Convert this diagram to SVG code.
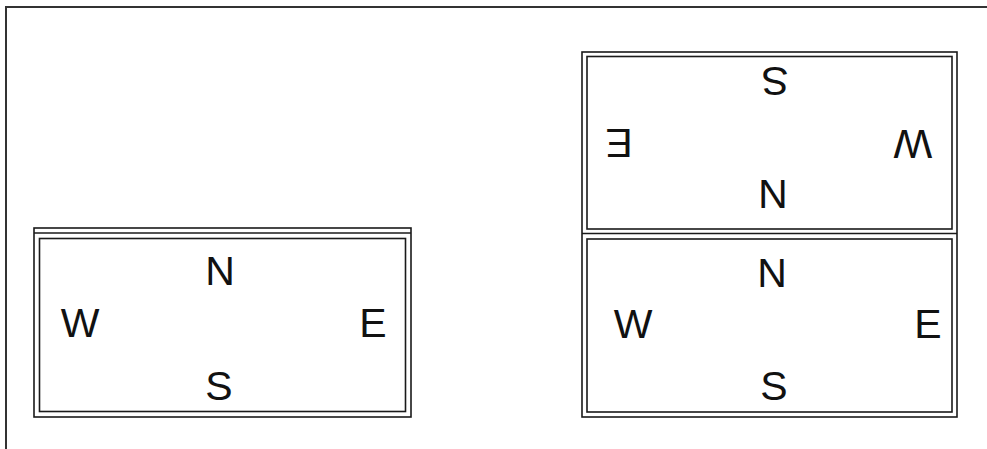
<svg xmlns="http://www.w3.org/2000/svg" width="987" height="449" viewBox="0 0 987 449">
<style>
.ln{fill:none;stroke:#1a1a1a;stroke-width:1.6}
.t{font-family:"Liberation Sans",Arial,sans-serif;font-size:41px;fill:#111;text-anchor:middle}
</style>
<rect width="987" height="449" fill="#fff"/>
<g id="border">
<polyline class="ln" points="6,449 6,7 987,7" style="stroke-width:2;stroke:#333"/>
</g>
<g id="box-left">
<rect class="ln" x="34" y="228" width="377" height="189"/>
<line class="ln" x1="34" y1="233" x2="411" y2="233"/>
<rect class="ln" x="39.5" y="238.5" width="366" height="173"/>
<text class="t" x="220" y="285">N</text>
<text class="t" x="80" y="337">W</text>
<text class="t" x="373" y="337">E</text>
<text class="t" x="219" y="400">S</text>
</g>
<g id="box-right">
<rect class="ln" x="582" y="52" width="375" height="365"/>
<line class="ln" x1="582" y1="233.5" x2="957" y2="233.5"/>
<rect class="ln" x="587" y="56.5" width="365" height="172.5"/>
<rect class="ln" x="587" y="239" width="365" height="173"/>
</g>
<g id="compass-top">
<text class="t" x="775" y="67" transform="rotate(180 775 67)">S</text>
<text class="t" x="773" y="180" transform="rotate(180 773 180)">N</text>
<text class="t" x="619" y="129" transform="rotate(180 619 129)">E</text>
<text class="t" x="913" y="130" transform="rotate(180 913 130)">W</text>
</g>
<g id="compass-bottom">
<text class="t" x="772" y="287">N</text>
<text class="t" x="633" y="338">W</text>
<text class="t" x="928" y="338">E</text>
<text class="t" x="774" y="400">S</text>
</g>
</svg>
